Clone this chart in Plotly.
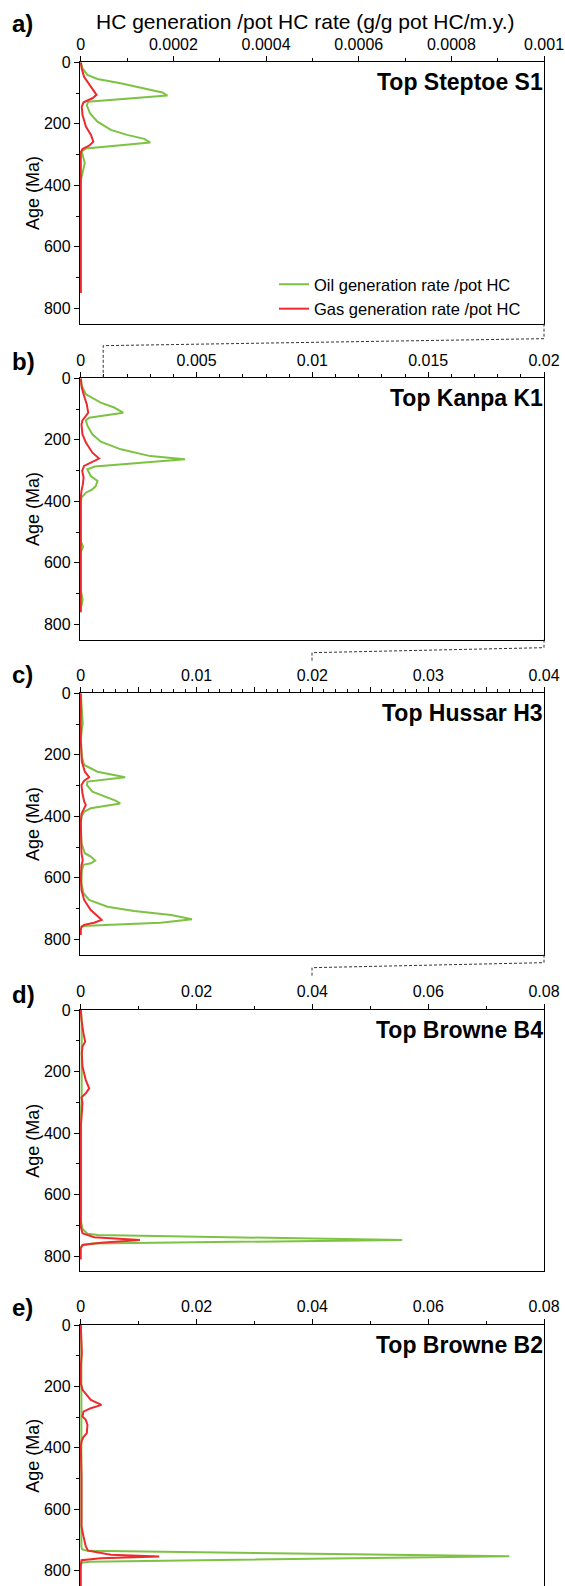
import plotly.graph_objects as go

W, H = 565, 1586
FONT = "Liberation Sans, Arial, Helvetica, sans-serif"
OIL_COLOR = "#7dc243"
GAS_COLOR = "#ee2a2e"

# ---- Panel a: Top Steptoe S1 ----
a_oil_age = [0, 20, 41, 54, 68, 85, 98, 108, 128, 140, 166, 193, 220, 236, 249, 261, 280, 290, 312, 328, 345, 364, 377, 400, 750]
a_oil_rate = [0, 3.6e-6, 1.4e-5, 3.6e-5, 8.6e-5, 1.37e-4, 1.76e-4, 1.87e-4, 1.6e-5, 1.3e-5, 2.0e-5, 3.6e-5, 6.5e-5, 1.0e-4, 1.37e-4, 1.5e-4, 1.1e-5, 2e-6, 6e-6, 8.6e-6, 6e-6, 3.6e-6, 1e-6, 0, 0]
a_gas_age = [0, 20, 47, 79, 106, 117, 130, 144, 171, 209, 236, 258, 271, 282, 292, 750]
a_gas_rate = [0, 2e-6, 7e-6, 2.2e-5, 3.4e-5, 2.5e-5, 6e-6, 2e-6, 3.6e-6, 1.1e-5, 2.2e-5, 2.7e-5, 1.8e-5, 3.6e-6, 0, 0]

# ---- Panel b: Top Kanpa K1 ----
b_oil_age = [0, 25, 52, 79, 95, 112, 128, 137, 155, 182, 206, 231, 253, 263, 287, 296, 318, 334, 350, 361, 372, 388, 404, 530, 548, 565, 690, 720, 750, 761]
b_oil_rate = [0, 4e-5, 2.2e-4, 8.6e-4, 1.44e-3, 1.83e-3, 3.6e-4, 2.2e-4, 2.9e-4, 5e-4, 8.6e-4, 1.73e-3, 3.0e-3, 4.5e-3, 6e-4, 2.8e-4, 4.3e-4, 7.2e-4, 6.5e-4, 5e-4, 2.2e-4, 3e-5, 0, 0, 1e-4, 0, 0, 8e-5, 0, 0]
b_gas_age = [0, 30, 57, 85, 112, 122, 137, 150, 182, 209, 242, 261, 271, 285, 301, 323, 345, 366, 388, 761]
b_gas_rate = [0, 4e-5, 1.4e-4, 2.6e-4, 3.2e-4, 2.2e-4, 7e-5, 3e-5, 7e-5, 2.2e-4, 5e-4, 7.9e-4, 5e-4, 1.4e-4, 6e-5, 1.2e-4, 9e-5, 3e-5, 0, 0]

# ---- Panel c: Top Hussar H3 ----
c_oil_age = [0, 54, 98, 119, 152, 206, 233, 255, 266, 273, 287, 298, 320, 338, 349, 358, 374, 385, 401, 423, 488, 520, 531, 544, 553, 558, 575, 618, 650, 672, 694, 708, 721, 735, 746, 753, 757, 761]
c_oil_rate = [0, 6e-5, 1.7e-4, 9e-5, 0, 9e-5, 2.9e-4, 1.44e-3, 3.0e-3, 3.83e-3, 5.8e-4, 5.2e-4, 1.0e-3, 2.16e-3, 3.0e-3, 3.4e-3, 8.6e-4, 2.9e-4, 6e-5, 0, 6e-5, 3.5e-4, 8.6e-4, 1.24e-3, 8.6e-4, 2.3e-4, 9e-5, 6e-5, 2.3e-4, 7.2e-4, 2.3e-3, 4.6e-3, 7.8e-3, 9.6e-3, 6.9e-3, 2.6e-3, 2.9e-4, 0]
c_gas_age = [0, 152, 222, 255, 273, 284, 298, 325, 352, 363, 379, 392, 423, 520, 544, 558, 596, 640, 672, 705, 724, 737, 746, 753, 759, 770, 786]
c_gas_rate = [0, 0, 9e-5, 3.5e-4, 7.2e-4, 2.9e-4, 6e-5, 1.4e-4, 2.9e-4, 4.3e-4, 2.3e-4, 6e-5, 0, 6e-5, 1.7e-4, 6e-5, 0, 6e-5, 2.9e-4, 8.6e-4, 1.44e-3, 1.8e-3, 1.15e-3, 2.9e-4, 6e-5, 0, 0]

# ---- Panel d: Top Browne B4 ----
d_oil_age = [0, 30, 290, 320, 690, 712, 728, 732, 748, 759, 764, 772]
d_oil_rate = [0, 1.5e-4, 1.5e-4, 5e-5, 5e-5, 3e-4, 1.2e-3, 3e-3, 0.0555, 2e-3, 3e-4, 0]
d_gas_age = [0, 33, 76, 103, 119, 141, 184, 228, 255, 271, 284, 304, 336, 379, 705, 726, 739, 748, 757, 764, 775, 811]
d_gas_rate = [0, 1.2e-4, 4.6e-4, 7.5e-4, 2.9e-4, 1.7e-4, 2.9e-4, 8.6e-4, 1.44e-3, 8.6e-4, 1.2e-4, 2.9e-4, 1.7e-4, 0, 0, 2.9e-4, 2.3e-3, 0.0102, 3.5e-3, 2.9e-4, 0, 0]

# ---- Panel e: Top Browne B2 ----
e_oil_age = [0, 70, 720, 730, 735, 753, 771, 774, 780]
e_oil_rate = [0, 1e-4, 1e-4, 2e-4, 1.1e-3, 0.074, 1.5e-3, 1e-4, 0]
e_gas_age = [0, 49, 92, 136, 190, 211, 244, 260, 271, 282, 298, 309, 325, 352, 365, 379, 396, 493, 537, 591, 656, 688, 721, 735, 748, 754, 760, 766, 786, 850]
e_gas_rate = [0, 1.2e-4, 1.7e-4, 0, 0, 2.9e-4, 1.73e-3, 3.57e-3, 1.73e-3, 4.6e-4, 2.9e-4, 8.6e-4, 1.15e-3, 1.04e-3, 4.6e-4, 1.2e-4, 0, 1.2e-4, 1.2e-4, 0, 1.2e-4, 4.6e-4, 8.6e-4, 1.27e-3, 5.2e-3, 0.01353, 3.45e-3, 1.2e-4, 0, 0]

panel_names = ["Top Steptoe S1", "Top Kanpa K1", "Top Hussar H3", "Top Browne B4", "Top Browne B2"]
panel_letters = ["a)", "b)", "c)", "d)", "e)"]
x_max = [0.001, 0.02, 0.04, 0.08, 0.08]
x_labels = [
    ["0", "0.0002", "0.0004", "0.0006", "0.0008", "0.001"],
    ["0", "0.005", "0.01", "0.015", "0.02"],
    ["0", "0.01", "0.02", "0.03", "0.04"],
    ["0", "0.02", "0.04", "0.06", "0.08"],
    ["0", "0.02", "0.04", "0.06", "0.08"],
]
x_minor_step = [0.0001, 0.001, 0.001, 0.01, 0.01]
x_mid_step = [None, None, 0.005, None, None]
age_ticks = [0, 200, 400, 600, 800]
age_max = 850

oil_series = [(a_oil_age, a_oil_rate), (b_oil_age, b_oil_rate), (c_oil_age, c_oil_rate),
              (d_oil_age, d_oil_rate), (e_oil_age, e_oil_rate)]
gas_series = [(a_gas_age, a_gas_rate), (b_gas_age, b_gas_rate), (c_gas_age, c_gas_rate),
              (d_gas_age, d_gas_rate), (e_gas_age, e_gas_rate)]

# page geometry (pixels)
X0, X1 = 80, 544
TOPS = [62.3, 378.3, 693.3, 1010, 1325]
PX_PER_MA = 0.3075
LETTER_Y = [24, 361.5, 674, 994, 1307]
EDGE_PAD_PX = 0.8  # keeps zero-valued curve segments from being clipped at the left frame


def fx(p):
    return p / W


def fy(p):
    return 1 - p / H


fig = go.Figure()
layout = dict(
    template="none",
    width=W, height=H,
    margin=dict(l=0, r=0, t=0, b=0, pad=0),
    paper_bgcolor="white", plot_bgcolor="white",
    font=dict(family=FONT, size=16, color="black"),
    showlegend=True,
    legend=dict(x=fx(274), y=fy(267), xanchor="left", yanchor="top",
                bgcolor="rgba(0,0,0,0)", font=dict(size=16.5), tracegroupgap=0),
)
annotations = []
shapes = []

for i in range(5):
    n = "" if i == 0 else str(i + 1)
    top = TOPS[i]
    bottom = min(top + age_max * PX_PER_MA, H)
    xmax = x_max[i]
    xmin = -xmax * EDGE_PAD_PX / (X1 - X0)
    labels = x_labels[i]
    label_step = xmax / (len(labels) - 1)
    tickvals = [k * label_step for k in range(len(labels))]
    ticktext = list(labels)
    if x_mid_step[i]:
        extra = [label_step * (k + 0.5) for k in range(len(labels) - 1)]
        tickvals += extra
        ticktext += [""] * len(extra)

    fig.add_trace(go.Scatter(
        x=oil_series[i][1], y=oil_series[i][0], mode="lines",
        line=dict(color=OIL_COLOR, width=2),
        name="Oil generation rate /pot HC", showlegend=(i == 0),
        xaxis="x" + n, yaxis="y" + n))
    fig.add_trace(go.Scatter(
        x=gas_series[i][1], y=gas_series[i][0], mode="lines",
        line=dict(color=GAS_COLOR, width=2),
        name="Gas generation rate /pot HC", showlegend=(i == 0),
        xaxis="x" + n, yaxis="y" + n))

    layout["xaxis" + n] = dict(
        domain=[fx(X0), fx(X1)], anchor="y" + n, side="top",
        range=[xmin, xmax], tickmode="array", tickvals=tickvals, ticktext=ticktext,
        ticks="outside", ticklen=5, tickwidth=1, tickcolor="black",
        minor=dict(dtick=x_minor_step[i], tick0=0, ticks="outside", ticklen=3,
                   tickwidth=1, tickcolor="black", showgrid=False),
        showline=True, linecolor="black", linewidth=1.3,
        mirror=(i < 4), showgrid=False, zeroline=False, automargin=False,
        tickfont=dict(size=16), layer="below traces", fixedrange=True)
    layout["yaxis" + n] = dict(
        domain=[fy(bottom), fy(top)], anchor="x" + n,
        range=[age_max, 0], tickmode="array", tickvals=age_ticks,
        ticks="outside", ticklen=5, tickwidth=1, tickcolor="black",
        minor=dict(dtick=100, tick0=0, ticks="outside", ticklen=3,
                   tickwidth=1, tickcolor="black", showgrid=False),
        showline=True, linecolor="black", linewidth=1.3, mirror=True,
        showgrid=False, zeroline=False, automargin=False, tickfont=dict(size=16),
        layer="below traces", fixedrange=True)

    # axis title
    annotations.append(dict(
        text="Age (Ma)", x=fx(33), y=fy(top + age_max * PX_PER_MA / 2),
        xref="paper", yref="paper", textangle=-90, showarrow=False,
        xanchor="center", yanchor="middle", font=dict(size=18)))
    # panel name
    annotations.append(dict(
        text="<b>" + panel_names[i] + "</b>", x=fx(545), y=fy(top + 20),
        xref="paper", yref="paper", showarrow=False,
        xanchor="right", yanchor="middle", font=dict(size=23)))
    # panel letter
    annotations.append(dict(
        text="<b>" + panel_letters[i] + "</b>", x=fx(10), y=fy(LETTER_Y[i]),
        xref="paper", yref="paper", showarrow=False,
        xanchor="left", yanchor="middle", font=dict(size=24)))

# main axis title
annotations.append(dict(
    text="HC generation /pot HC rate (g/g pot HC/m.y.)", x=fx(305), y=fy(22),
    xref="paper", yref="paper", showarrow=False,
    xanchor="center", yanchor="middle", font=dict(size=21)))

# dashed zoom connectors between consecutive panels
connector_drop = [(15, 22, None), (8, 13, 32), (8, 13, 33)]
for i in range(3):
    bottom = TOPS[i] + age_max * PX_PER_MA
    next_top = TOPS[i + 1]
    xp = X0 + (x_max[i] / x_max[i + 1]) * (X1 - X0)
    d1, d2, stop = connector_drop[i]
    end_y = next_top if stop is None else next_top - stop
    pts = [(X1, bottom), (X1, bottom + d1), (xp, bottom + d2), (xp, end_y)]
    path = "M " + " L ".join(f"{fx(px)},{fy(py)}" for px, py in pts)
    shapes.append(dict(type="path", path=path, xref="paper", yref="paper",
                       line=dict(color="#333333", width=1, dash="3px,2px")))

layout["annotations"] = annotations
layout["shapes"] = shapes
fig.update_layout(**layout)
fig.write_html("out.html")
